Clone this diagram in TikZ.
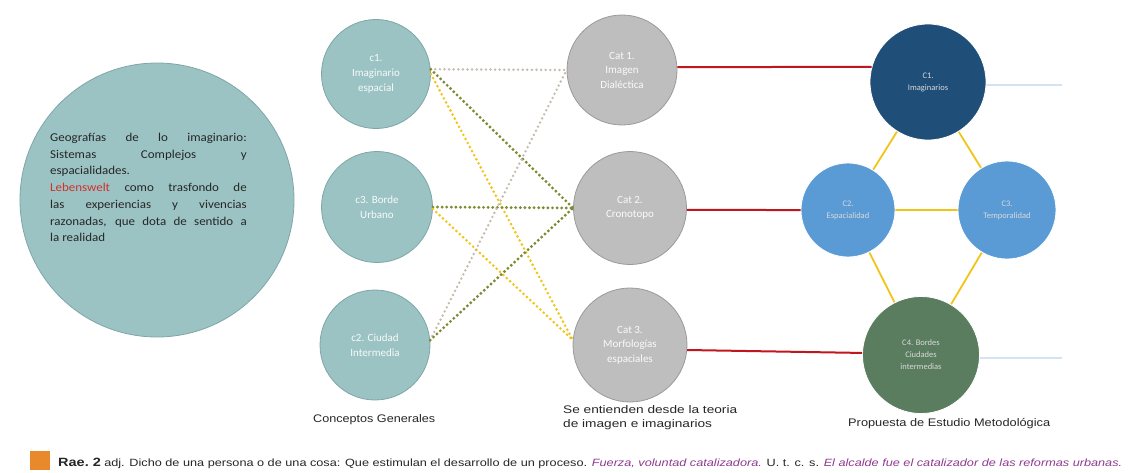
\documentclass[tikz,border=0pt]{standalone}
\usepackage{fontspec}
\usepackage{graphicx}
\setmainfont{Carlito}
\newfontfamily\arialf{Liberation Sans}
\usetikzlibrary{backgrounds}
\definecolor{tealc}{HTML}{9CC3C3}
\definecolor{tealb}{HTML}{7FA6A6}
\definecolor{greyc}{HTML}{BEBEBE}
\definecolor{greyb}{HTML}{9A9A9A}
\definecolor{navyc}{HTML}{1F4E79}
\definecolor{bluec}{HTML}{5B9BD5}
\definecolor{greenc}{HTML}{5A7D60}
\definecolor{redl}{HTML}{C0161E}
\definecolor{yel}{HTML}{F2C418}
\definecolor{olivec}{HTML}{7E8B33}
\definecolor{tanc}{HTML}{C4BBAE}
\definecolor{paleblue}{HTML}{BDD3EA}
\definecolor{orangesq}{HTML}{E8892B}
\definecolor{purp}{HTML}{8E3A8E}
\definecolor{redtxt}{HTML}{D0312D}
\hbadness=10000
\begin{document}
\begin{tikzpicture}[x=1pt,y=-1pt,
  tcirc/.style={circle,fill=tealc,draw=tealb,line width=0.8pt,inner sep=0pt,align=center,text=white!92!tealc,font=\fontsize{11}{15}\selectfont},
  gcirc/.style={circle,fill=greyc,draw=greyb,line width=0.8pt,inner sep=0pt,align=center,text=white!92!greyc,font=\fontsize{11}{14.5}\selectfont},
  pcirc/.style={circle,draw=white,line width=0.8pt,inner sep=0pt,align=center,text=white!85!black,font=\fontsize{8.5}{12}\selectfont},
  redline/.style={draw=redl,line width=2pt},
  yline/.style={draw=yel,line width=1.8pt},
  bline/.style={draw=paleblue,line width=1.2pt},
  dotol/.style={draw=olivec,line width=3.2pt,line cap=round,dash pattern=on 0pt off 4.6pt},
  dotye/.style={draw=yel,line width=2.9pt,line cap=round,dash pattern=on 0pt off 4.6pt},
  dottn/.style={draw=tanc,line width=2.7pt,line cap=round,dash pattern=on 0pt off 4.6pt},
  lab/.style={font=\arialf\fontsize{11}{15}\selectfont,text=black!85,inner sep=0pt}
]
\useasboundingbox (0,0) rectangle (1128,472);

% big circle
\node[circle,fill=tealc,draw=tealb,line width=0.8pt,minimum size=274pt,inner sep=0pt] (big) at (157,200) {};
\node[inner sep=0pt,text=black!85,anchor=north west] (bigtxt) at (50,133)
 {\scalebox{1.08}[1]{\parbox[t]{182pt}{\fontsize{12}{16.7}\selectfont\raggedright\rightskip=0pt\relax
  Geografías de lo imaginario:\linebreak Sistemas Complejos y\linebreak espacialidades.\par
  \textcolor{redtxt}{Lebenswelt} como trasfondo de\linebreak las experiencias y vivencias\linebreak razonadas, que dota de sentido a\linebreak la realidad}}};

% left column
\node[tcirc,minimum size=109pt] (c1) at (376,74) {c1.\\Imaginario\\espacial};
\node[tcirc,minimum size=111pt] (c3) at (377,207) {c3. Borde\\Urbano};
\node[tcirc,minimum size=110pt] (c2) at (375,345) {c2. Ciudad\\Intermedia};

% middle column
\node[gcirc,minimum size=110pt] (k1) at (622,70) {Cat 1.\\Imagen\\Dialéctica};
\node[gcirc,minimum size=113pt] (k2) at (630,208) {Cat 2.\\Cronotopo};
\node[gcirc,minimum size=114pt] (k3) at (630,345) {Cat 3.\\Morfologías\\espaciales};

% right
\node[pcirc,fill=navyc,minimum size=116pt] (C1) at (928,82) {C1.\\Imaginarios};
\node[pcirc,fill=bluec,minimum size=94pt] (C2) at (848,210) {C2.\\Espacialidad};
\node[pcirc,fill=bluec,minimum size=98pt] (C3) at (1007,210) {C3.\\Temporalidad};
\node[pcirc,fill=greenc,minimum size=117pt] (C4) at (921,355) {C4. Bordes\\Ciudades\\intermedias};

% dotted connectors
\draw[dottn] (c1.5) -- (k1.west);
\draw[dotol] (c1.5) -- (k2.west);
\draw[dotye] (c1.0) -- (k3.175);
\draw[dotol] (c3.east) -- (k2.west);
\draw[dotye] (c3.358) -- (k3.175);
\draw[dottn] (c2.5) -- (k1.west);
\draw[dotol] (c2.5) -- (k2.west);

% red
\draw[redline] (k1.3) -- (C1.165);
\draw[redline] (k2.358) -- (C2.west);
\draw[redline] (k3.355) -- (C4.178);

% yellow solid
\begin{scope}[on background layer]
\draw[yline] (C1) -- (C2);
\draw[yline] (C1) -- (C3);
\draw[yline] (C2) -- (C3);
\draw[yline] (C2) -- (C4);
\draw[yline] (C3) -- (C4);
\end{scope}

% pale blue
\coordinate (e1) at (1062,85);
\coordinate (e4) at (1062,358);
\draw[bline] (C1.357) -- (e1);
\draw[bline] (C4.357) -- (e4);

% labels
\node[lab,anchor=base west] (l1) at (313,422) {\resizebox{122pt}{\height}{Conceptos Generales}};
\node[lab,anchor=north west] (l2) at (563,403) {\resizebox{174pt}{\height}{\begin{tabular}{@{}l@{}}Se entienden desde la teoria\\[-1.5pt]de imagen e imaginarios\end{tabular}}};
\node[lab,anchor=base west] (l3) at (848,426) {\resizebox{202pt}{\height}{Propuesta de Estudio Metodológica}};

% footer
\fill[orangesq] (30,451) rectangle (50,470);
\node[anchor=base west,inner sep=0pt,text=black!85] (foot) at (58,466)
 {\resizebox{1064pt}{\height}{\arialf{\fontsize{12}{14}\selectfont\bfseries Rae.\ 2} \fontsize{10.5}{12}\selectfont adj. Dicho de una persona o de una cosa: Que estimulan el desarrollo de un proceso. \textcolor{purp}{\itshape Fuerza, voluntad catalizadora.} U. t. c. s. \textcolor{purp}{\itshape El alcalde fue el catalizador de las reformas urbanas.}}};
\end{tikzpicture}
\end{document}
